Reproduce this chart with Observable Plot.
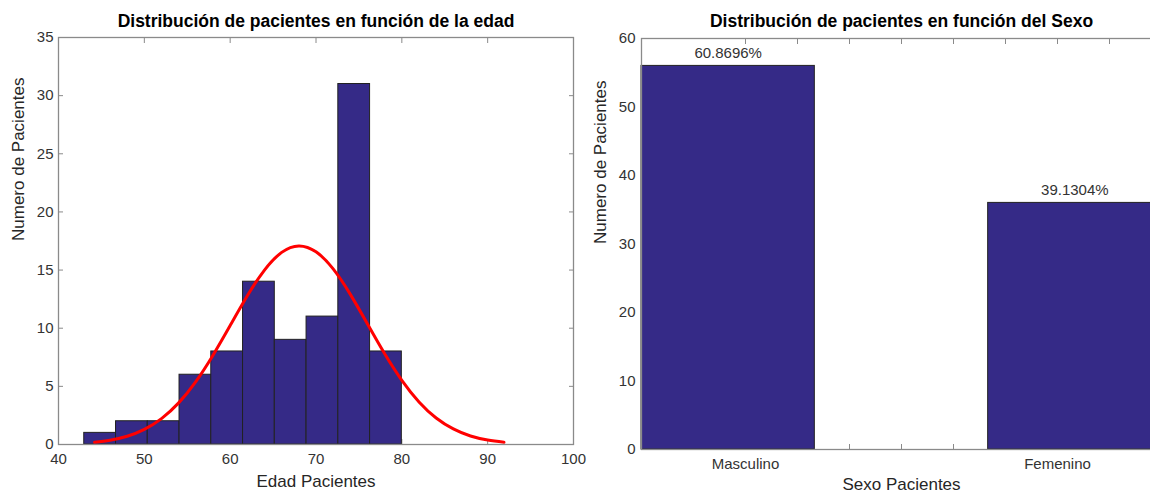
<!DOCTYPE html>
<html>
<head>
<meta charset="utf-8">
<script src="https://cdn.jsdelivr.net/npm/d3@7"></script>
<script src="https://cdn.jsdelivr.net/npm/@observablehq/plot@0.6"></script>
<style>
  html, body { margin: 0; padding: 0; background: #fff; }
  #wrap { position: relative; width: 1150px; height: 493px; overflow: hidden; background: #fff; }
  #wrap > svg { position: absolute; top: 0; }
</style>
</head>
<body>
<div id="wrap"></div>
<script>
// --- Edad: histogram of ages (10 bins) ---
const ageBinEdges = [43, 46.7, 50.4, 54.1, 57.8, 61.5, 65.2, 68.9, 72.6, 76.3, 80];
const ageCounts = [1, 2, 2, 6, 8, 14, 9, 11, 31, 8];
// fitted normal curve (scaled to counts)
const ageCurveX = [44.2, 46, 48, 50, 52, 54, 56, 58, 60, 62, 64, 66, 68, 70, 72, 74, 76, 78, 80, 82, 84, 86, 88, 90, 91.9];
const ageCurveY = [0.19, 0.37, 0.71, 1.30, 2.23, 3.58, 5.41, 7.68, 10.23, 12.79, 15.00, 16.52, 17.08, 16.57, 15.10, 12.91, 10.36, 7.80, 5.52, 3.66, 2.28, 1.34, 0.73, 0.38, 0.19];
const ageTicksX = [40, 50, 60, 70, 80, 90, 100];
const ageTicksY = [0, 5, 10, 15, 20, 25, 30, 35];

// --- Sexo: counts per category, coded 0 / 1 ---
const sexCategories = ["Masculino", "Femenino"];
const sexCodes = [0, 1];
const sexCounts = [56, 36];
const sexTicksX = [0.2, 0.3, 0.4, 0.5, 0.6, 0.7, 0.8, 0.9, 1.0];
const sexLabelTicks = [0.2, 0.8];
const sexTicksY = [0, 10, 20, 30, 40, 50, 60];

const barFill = "#352A87";
const barEdge = "#222";
const frameColor = "#8a8a8a";
const textColor = "#333";
const sansFont = "'Liberation Sans', Arial, Helvetica, sans-serif";

const ageBins = ageCounts.map((c, i) => ({x1: ageBinEdges[i], x2: ageBinEdges[i + 1], count: c}));
const ageCurve = ageCurveX.map((x, i) => ({x, y: ageCurveY[i]}));

const nSexBins = 3;
const sexTotal = d3.sum(sexCounts);
const sexBins = sexCategories.map((name, i) => {
  const b = Math.min(Math.floor(sexCodes[i] * nSexBins), nSexBins - 1);
  return {name, x1: b / nSexBins, x2: (b + 1) / nSexBins, count: sexCounts[i],
          pct: (sexCounts[i] / sexTotal * 100).toFixed(4) + "%"};
});

function inwardTicks(xTicks, yTicks) {
  const o = {tickSize: -5, tickFormat: () => "", color: frameColor, strokeWidth: 1, label: null};
  return [
    Plot.axisX(xTicks, {anchor: "bottom", ...o}),
    Plot.axisX(xTicks, {anchor: "top", ...o}),
    Plot.axisY(yTicks, {anchor: "left", ...o}),
    Plot.axisY(yTicks, {anchor: "right", ...o})
  ];
}

const left = Plot.plot({
  width: 590, height: 493,
  marginLeft: 58, marginRight: 17, marginTop: 37, marginBottom: 49,
  style: {fontFamily: sansFont, fontSize: "15px", color: textColor, background: "none", overflow: "visible"},
  x: {domain: [40, 100]},
  y: {domain: [0, 35]},
  marks: [
    ...inwardTicks(ageTicksX, ageTicksY),
    Plot.rectY(ageBins, {x1: "x1", x2: "x2", y: "count", fill: barFill, stroke: barEdge, strokeWidth: 1, inset: 0}),
    Plot.line(ageCurve, {x: "x", y: "y", stroke: "#ff0000", strokeWidth: 3, curve: "natural"}),
    Plot.frame({stroke: frameColor, strokeWidth: 1.3}),
    Plot.axisX(ageTicksX, {anchor: "bottom", tickSize: 0, tickPadding: 9, color: textColor, label: null}),
    Plot.axisY(ageTicksY, {anchor: "left", tickSize: 0, tickPadding: 5, color: textColor, label: null}),
    Plot.text(["Distribución de pacientes en función de la edad"], {frameAnchor: "top", dy: -16, fontSize: 17.5, fontWeight: "bold", fill: "#000", lineAnchor: "middle"}),
    Plot.text(["Edad Pacientes"], {frameAnchor: "bottom", dy: 37, fontSize: 17, fill: "#262626", lineAnchor: "middle"}),
    Plot.text(["Numero de Pacientes"], {frameAnchor: "left", dx: -40, rotate: -90, fontSize: 17, fill: "#262626", lineAnchor: "middle"})
  ]
});
left.style.left = "0px";

const right = Plot.plot({
  width: 601, height: 493,
  marginLeft: 61, marginRight: 20, marginTop: 38, marginBottom: 44,
  style: {fontFamily: sansFont, fontSize: "15px", color: textColor, background: "none", overflow: "visible"},
  x: {domain: [0, 1]},
  y: {domain: [0, 60]},
  marks: [
    ...inwardTicks(sexTicksX, sexTicksY),
    Plot.rectY(sexBins, {x1: "x1", x2: "x2", y: "count", fill: barFill, stroke: barEdge, strokeWidth: 1, inset: 0}),
    Plot.frame({stroke: frameColor, strokeWidth: 1.3}),
    Plot.text(sexBins, {x: d => (d.x1 + d.x2) / 2, y: "count", text: "pct", dy: -13, lineAnchor: "middle", fontSize: 15, fill: textColor}),
    Plot.axisX(sexLabelTicks, {anchor: "bottom", tickSize: 0, tickPadding: 9, color: textColor, label: null,
      tickFormat: t => sexCategories[sexLabelTicks.indexOf(t)]}),
    Plot.axisY(sexTicksY, {anchor: "left", tickSize: 0, tickPadding: 6, color: textColor, label: null}),
    Plot.text(["Distribución de pacientes en función del Sexo"], {frameAnchor: "top", dy: -17, fontSize: 17.5, fontWeight: "bold", fill: "#000", lineAnchor: "middle"}),
    Plot.text(["Sexo Pacientes"], {frameAnchor: "bottom", dy: 35, fontSize: 17, fill: "#262626", lineAnchor: "middle"}),
    Plot.text(["Numero de Pacientes"], {frameAnchor: "left", dx: -41, rotate: -90, fontSize: 17, fill: "#262626", lineAnchor: "middle"})
  ]
});
right.style.left = "580px";

document.getElementById("wrap").append(left, right);
</script>
</body>
</html>
